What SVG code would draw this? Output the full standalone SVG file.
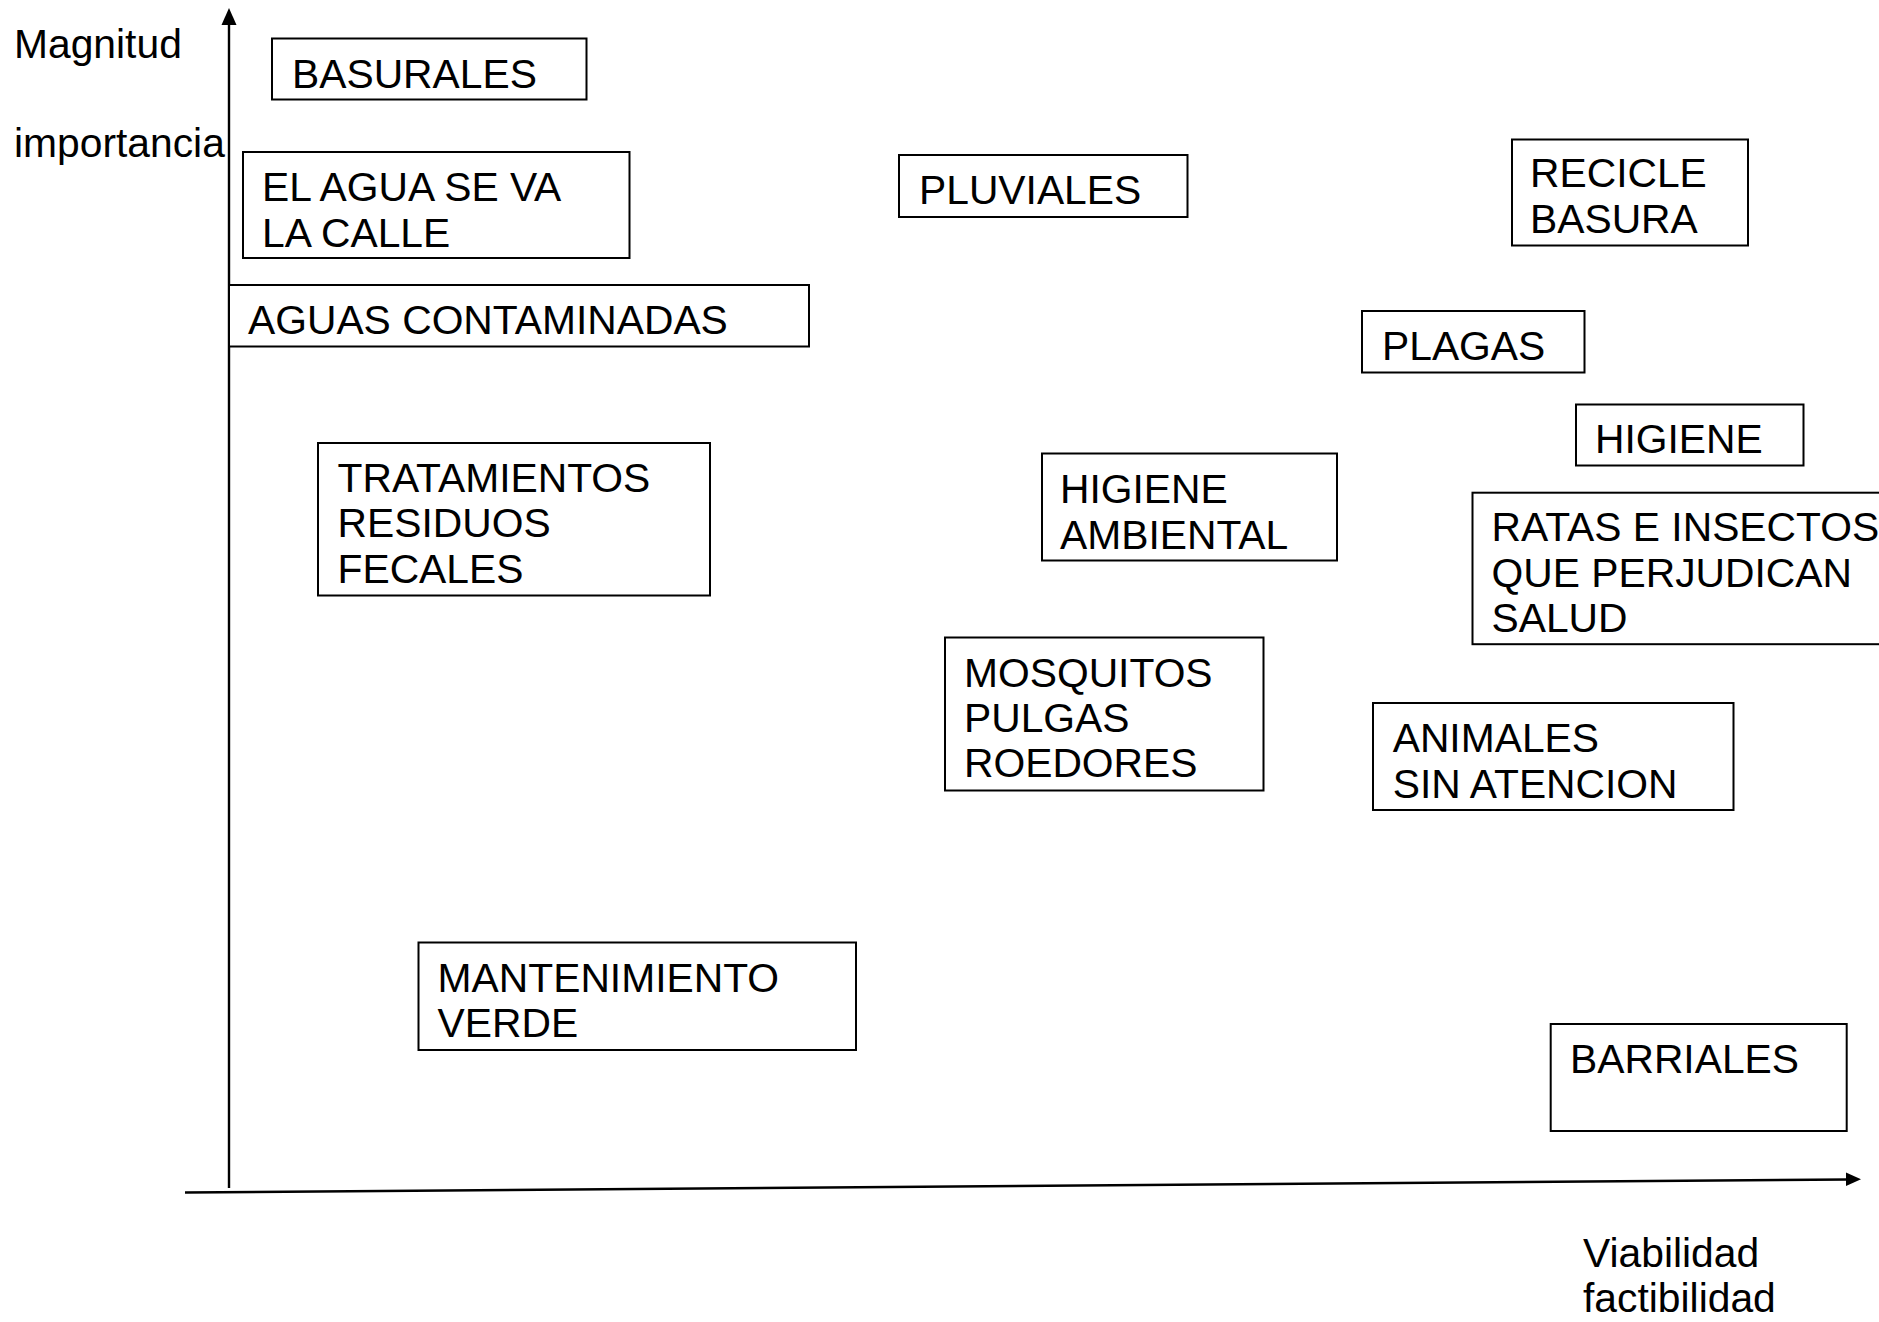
<svg xmlns="http://www.w3.org/2000/svg" width="1879" height="1322" viewBox="0 0 1879 1322">
<style>
.box{fill:#fff;stroke:#000;stroke-width:2}
.t{font-family:"Liberation Sans",Arial,sans-serif;font-size:40.8px;fill:#000}
.ax{stroke:#000;stroke-width:2.4;fill:none}
</style>
<rect width="1879" height="1322" fill="#fff"/>
<g id="connectors">
<line class="ax" x1="229" y1="1188" x2="229" y2="22"/>
<polygon points="229,8 221.5,25 236.5,25" fill="#000"/>
<line class="ax" x1="185" y1="1192.5" x2="1848" y2="1179.5"/>
<polygon points="1861,1179.3 1846,1172.6 1846,1186" fill="#000"/>
</g>
<g id="axis-labels">
<text class="t" x="14" y="57.5">Magnitud</text>
<text class="t" x="14" y="157">importancia</text>
<text class="t" x="1583" y="1267">Viabilidad</text>
<text class="t" x="1583" y="1312">factibilidad</text>
</g>
<g id="basurales">
<rect class="box" x="272" y="38.5" width="314.5" height="61"/>
<text class="t" x="292" y="88">BASURALES</text>
</g>
<g id="agua-calle">
<rect class="box" x="243" y="152" width="386.5" height="106"/>
<text class="t" x="262" y="201">EL AGUA SE VA</text>
<text class="t" x="262" y="246.7">LA CALLE</text>
</g>
<g id="aguas-contaminadas">
<rect class="box" x="229" y="285" width="580" height="61.5"/>
<text class="t" x="248" y="334">AGUAS CONTAMINADAS</text>
</g>
<g id="tratamientos">
<rect class="box" x="318" y="443" width="392" height="152.5"/>
<text class="t" x="337.5" y="491.7">TRATAMIENTOS</text>
<text class="t" x="337.5" y="537.3">RESIDUOS</text>
<text class="t" x="337.5" y="583.3">FECALES</text>
</g>
<g id="pluviales">
<rect class="box" x="899" y="155" width="288.5" height="62"/>
<text class="t" x="919" y="204">PLUVIALES</text>
</g>
<g id="recicle">
<rect class="box" x="1512" y="139.5" width="236" height="106"/>
<text class="t" x="1530" y="187.3">RECICLE</text>
<text class="t" x="1530" y="233.3">BASURA</text>
</g>
<g id="plagas">
<rect class="box" x="1362" y="311" width="222.5" height="61.5"/>
<text class="t" x="1382" y="360">PLAGAS</text>
</g>
<g id="higiene">
<rect class="box" x="1576" y="404.5" width="227.5" height="61"/>
<text class="t" x="1595" y="453.3">HIGIENE</text>
</g>
<g id="higiene-ambiental">
<rect class="box" x="1042" y="453.5" width="295" height="107"/>
<text class="t" x="1060" y="502.7">HIGIENE</text>
<text class="t" x="1060" y="548.7">AMBIENTAL</text>
</g>
<g id="ratas">
<rect class="box" x="1472.5" y="492.7" width="420" height="151.5"/>
<text class="t" x="1491.5" y="540.7">RATAS E INSECTOS</text>
<text class="t" x="1491.5" y="587.3">QUE PERJUDICAN</text>
<text class="t" x="1491.5" y="632.3">SALUD</text>
</g>
<g id="mosquitos">
<rect class="box" x="945" y="637.5" width="318.5" height="153"/>
<text class="t" x="964" y="686.7">MOSQUITOS</text>
<text class="t" x="964" y="732.3">PULGAS</text>
<text class="t" x="964" y="777.3">ROEDORES</text>
</g>
<g id="animales">
<rect class="box" x="1373" y="703" width="360.5" height="107"/>
<text class="t" x="1392.7" y="751.7">ANIMALES</text>
<text class="t" x="1392.7" y="797.7">SIN ATENCION</text>
</g>
<g id="mantenimiento">
<rect class="box" x="418.5" y="942.5" width="437.5" height="107.5"/>
<text class="t" x="437.6" y="991.7">MANTENIMIENTO</text>
<text class="t" x="437.6" y="1037.3">VERDE</text>
</g>
<g id="barriales">
<rect class="box" x="1550.7" y="1024" width="296" height="107"/>
<text class="t" x="1570" y="1072.7">BARRIALES</text>
</g>
</svg>
